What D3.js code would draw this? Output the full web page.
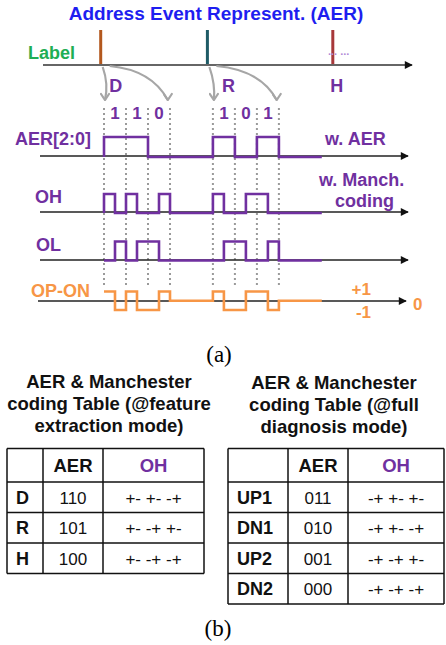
<!DOCTYPE html>
<html>
<head>
<meta charset="utf-8">
<script src="https://cdn.jsdelivr.net/npm/d3@7"></script>
<style>
  html, body { margin: 0; padding: 0; background: #fff; }
  svg { display: block; }
  text { font-family: "Liberation Sans", Arial, sans-serif; }
  .serif { font-family: "Liberation Serif", "Times New Roman", serif; }
</style>
</head>
<body>
<svg id="fig" width="446" height="645"></svg>
<script>
// ---- data -------------------------------------------------------------
const titleText = "Address Event Represent. (AER)";
const eventLabels = ["D", "R", "H"];
const markTimes = [-0.3, 9.4, 20.8];     // label pulses on the "Label" line
const startTimes = [0, 9.9];             // start of the encoded slot for D and R
const traceEnd = 19.8;                   // end of the drawn waveforms
const traceNames = ["AER[2:0]", "OH", "OL", "OP-ON"];
const levelLabels = ["+1", "-1", "0"];

const featureRows = ["D", "R", "H"];
const featureAER = ["110", "101", "100"];
const featureOH = ["+- +- -+", "+- -+ +-", "+- -+ -+"];

const diagRows = ["UP1", "DN1", "UP2", "DN2"];
const diagAER = ["011", "010", "001", "000"];
const diagOH = ["-+ +- +-", "-+ +- -+", "-+ -+ +-", "-+ -+ -+"];

// ---- styles -----------------------------------------------------------
const PURPLE = "#7030a0", ORANGE = "#f79646", BLUE = "#1e1ef0", GREEN = "#1fae55";
const markColors = ["#b3581e", "#1f5b66", "#a7383a"];
const GREY = "#a6a6a6";

const svg = d3.select("#fig");
const defs = svg.append("defs");
defs.append("marker").attr("id", "tri").attr("viewBox", "0 0 10 10")
  .attr("refX", 9).attr("refY", 5).attr("markerWidth", 9).attr("markerHeight", 8)
  .attr("markerUnits", "userSpaceOnUse").attr("orient", "auto")
  .append("path").attr("d", "M0,0 L10,5 L0,10 Z").attr("fill", "#111");
defs.append("marker").attr("id", "chev").attr("viewBox", "0 0 10 10")
  .attr("refX", 5).attr("refY", 9).attr("markerWidth", 10).attr("markerHeight", 10)
  .attr("markerUnits", "userSpaceOnUse").attr("orient", "0")
  .append("path").attr("d", "M1,3 L5,9 L9,3").attr("fill", "none")
  .attr("stroke", GREY).attr("stroke-width", 2.2).attr("stroke-linecap", "round");

// time scale shared by all traces (one unit = half a bit)
const x = d3.scaleLinear().domain([0, 16]).range([104, 280]);

// ---- title and label line --------------------------------------------
svg.append("text").attr("x", 216).attr("y", 20).attr("text-anchor", "middle")
  .attr("font-size", 19).attr("font-weight", "bold").attr("fill", BLUE).text(titleText);

svg.append("text").attr("x", 28).attr("y", 59).attr("font-size", 18)
  .attr("font-weight", "bold").attr("fill", GREEN).text("Label");

svg.append("line").attr("x1", 43).attr("x2", 412).attr("y1", 65).attr("y2", 65)
  .attr("stroke", "#666").attr("stroke-width", 2).attr("marker-end", "url(#tri)");

svg.selectAll("line.mark").data(markTimes).join("line").attr("class", "mark")
  .attr("x1", d => x(d)).attr("x2", d => x(d)).attr("y1", 30).attr("y2", 64)
  .attr("stroke", (d, i) => markColors[i]).attr("stroke-width", 3);

const labelDx = [15, 21, 4];
svg.selectAll("text.ev").data(eventLabels).join("text").attr("class", "ev")
  .attr("x", (d, i) => x(markTimes[i]) + labelDx[i]).attr("y", 92)
  .attr("text-anchor", "middle").attr("font-size", 18).attr("font-weight", "bold")
  .attr("fill", PURPLE).text(d => d);

svg.append("text").attr("x", 328).attr("y", 55).attr("font-size", 11)
  .attr("font-weight", "bold").attr("fill", "#b08ad6").text("... ...");

// curved arrows from each label pulse to its encoded slot
startTimes.forEach((s, i) => {
  const mx = x(markTimes[i]);
  const a = x(s) + 1, b = x(s + 5.8);
  svg.append("path").attr("d", `M${mx + 2},67 Q${mx + 8},84 ${a},100`)
    .attr("fill", "none").attr("stroke", GREY).attr("stroke-width", 2.2)
    .attr("marker-end", "url(#chev)");
  svg.append("path").attr("d", `M${mx + 9},66 Q${b - 16},70 ${b},100`)
    .attr("fill", "none").attr("stroke", GREY).attr("stroke-width", 2.2)
    .attr("marker-end", "url(#chev)");
});

// ---- waveforms --------------------------------------------------------
function halfLevels(i) {
  const aer = featureAER[i].split("").flatMap(b => [+b, +b]);
  const oh = featureOH[i].replace(/ /g, "").split("").map(c => c === "+" ? 1 : 0);
  const ol = oh.map(v => 1 - v);
  const op = oh.map((v, k) => v - ol[k]);
  return { aer, oh, ol, op };
}
const lv = startTimes.map((s, i) => halfLevels(i));

function tracePoints(key, lead) {
  const pts = lead ? [[0, 0]] : [];
  startTimes.forEach((s, i) => {
    lv[i][key].forEach((v, k) => pts.push([s + k, v]));
    pts.push([s + 6, 0]);
  });
  pts.push([traceEnd, 0]);
  return pts;
}

const traces = [
  { key: "aer", axisY: 156, y: d3.scaleLinear().domain([0, 1]).range([157, 137]), color: PURPLE, lead: true },
  { key: "oh", axisY: 212, y: d3.scaleLinear().domain([0, 1]).range([213, 194]), color: PURPLE, lead: true },
  { key: "ol", axisY: 260, y: d3.scaleLinear().domain([0, 1]).range([260.5, 241.5]), color: PURPLE, lead: true },
  { key: "op", axisY: 301, y: d3.scaleLinear().domain([-1, 1]).range([310, 291.5]), color: ORANGE, lead: false }
];

// dotted bit boundaries
const bounds = startTimes.flatMap(s => [0, 2, 4, 6].map(k => s + k));
svg.selectAll("line.bound").data(bounds).join("line").attr("class", "bound")
  .attr("x1", d => x(d)).attr("x2", d => x(d)).attr("y1", 108).attr("y2", 286)
  .attr("stroke", "#9a9a9a").attr("stroke-width", 2).attr("stroke-dasharray", "2,3");

// time axes
const axisX = [[40, 408], [40, 408], [40, 408], [38, 406]];
traces.forEach((t, i) => {
  svg.append("line").attr("x1", axisX[i][0]).attr("x2", axisX[i][1])
    .attr("y1", t.axisY).attr("y2", t.axisY)
    .attr("stroke", "#222").attr("stroke-width", 1.4).attr("marker-end", "url(#tri)");
});

traces.forEach(t => {
  const line = d3.line().x(d => x(d[0])).y(d => t.y(d[1])).curve(d3.curveStepAfter);
  svg.append("path").attr("d", line(tracePoints(t.key, t.lead)))
    .attr("fill", "none").attr("stroke", t.color).attr("stroke-width", 2.6)
    .attr("stroke-linejoin", "miter");
});

// bit values over each slot
const bitData = startTimes.flatMap((s, i) =>
  featureAER[i].split("").map((b, k) => ({ t: s + 2 * k + 1, b })));
svg.selectAll("text.bit").data(bitData).join("text").attr("class", "bit")
  .attr("x", d => x(d.t)).attr("y", 119).attr("text-anchor", "middle")
  .attr("font-size", 17).attr("font-weight", "bold").attr("fill", PURPLE).text(d => d.b);

// trace names and side notes
const nameX = [15, 35, 36, 31], nameY = [145, 203, 251, 297];
traceNames.forEach((n, i) => {
  svg.append("text").attr("x", nameX[i]).attr("y", nameY[i]).attr("font-size", 18)
    .attr("font-weight", "bold").attr("fill", i === 3 ? ORANGE : PURPLE).text(n);
});
svg.append("text").attr("x", 325).attr("y", 145).attr("font-size", 18)
  .attr("font-weight", "bold").attr("fill", PURPLE).text("w. AER");
svg.append("text").attr("x", 319).attr("y", 186).attr("font-size", 18)
  .attr("font-weight", "bold").attr("fill", PURPLE).text("w. Manch.");
svg.append("text").attr("x", 335).attr("y", 207).attr("font-size", 18)
  .attr("font-weight", "bold").attr("fill", PURPLE).text("coding");

svg.append("text").attr("x", 371).attr("y", 295).attr("text-anchor", "end").attr("font-size", 17)
  .attr("font-weight", "bold").attr("fill", ORANGE).text(levelLabels[0]);
svg.append("text").attr("x", 371).attr("y", 318).attr("text-anchor", "end").attr("font-size", 17)
  .attr("font-weight", "bold").attr("fill", ORANGE).text(levelLabels[1]);
svg.append("text").attr("x", 413).attr("y", 310).attr("font-size", 17)
  .attr("font-weight", "bold").attr("fill", ORANGE).text(levelLabels[2]);

svg.append("text").attr("class", "serif").attr("x", 219).attr("y", 362)
  .attr("text-anchor", "middle").attr("font-size", 23).text("(a)");

// ---- tables -----------------------------------------------------------
function drawTable(cfg) {
  const g = svg.append("g");
  cfg.title.forEach((line, i) => {
    g.append("text").attr("x", cfg.cx).attr("y", cfg.titleY + i * 22)
      .attr("text-anchor", "middle").attr("font-size", 18.5).attr("font-weight", "bold")
      .attr("fill", "#111").text(line);
  });
  const cols = cfg.cols, rows = cfg.rowsY;
  rows.forEach(y => g.append("line").attr("x1", cols[0]).attr("x2", cols[cols.length - 1])
    .attr("y1", y).attr("y2", y).attr("stroke", "#111").attr("stroke-width", 1.5));
  cols.forEach(c => g.append("line").attr("x1", c).attr("x2", c)
    .attr("y1", rows[0]).attr("y2", rows[rows.length - 1]).attr("stroke", "#111").attr("stroke-width", 1.5));
  const mid = k => (rows[k] + rows[k + 1]) / 2 + 6.5;
  g.append("text").attr("x", (cols[1] + cols[2]) / 2).attr("y", mid(0)).attr("text-anchor", "middle")
    .attr("font-size", 18.5).attr("font-weight", "bold").attr("fill", "#111").text("AER");
  g.append("text").attr("x", (cols[2] + cols[3]) / 2).attr("y", mid(0)).attr("text-anchor", "middle")
    .attr("font-size", 18.5).attr("font-weight", "bold").attr("fill", PURPLE).text("OH");
  cfg.rowNames.forEach((r, i) => {
    g.append("text").attr("x", cols[0] + 9).attr("y", mid(i + 1)).attr("font-size", 18)
      .attr("font-weight", "bold").attr("fill", "#111").text(r);
    g.append("text").attr("x", (cols[1] + cols[2]) / 2).attr("y", mid(i + 1)).attr("text-anchor", "middle")
      .attr("font-size", 17).attr("fill", "#111").text(cfg.aer[i]);
    g.append("text").attr("x", (cols[2] + cols[3]) / 2).attr("y", mid(i + 1)).attr("text-anchor", "middle")
      .attr("font-size", 17).attr("fill", "#111").attr("xml:space", "preserve").text(cfg.oh[i]);
  });
}

drawTable({
  title: ["AER & Manchester", "coding Table (@feature", "extraction mode)"],
  cx: 109, titleY: 388,
  cols: [7, 43, 103, 204], rowsY: [448.5, 482, 512.5, 543, 573.5],
  rowNames: featureRows, aer: featureAER, oh: featureOH
});
drawTable({
  title: ["AER & Manchester", "coding Table (@full", "diagnosis mode)"],
  cx: 334, titleY: 389,
  cols: [228, 288, 348, 444], rowsY: [448.5, 482, 512.5, 543, 573.5, 604],
  rowNames: diagRows, aer: diagAER, oh: diagOH
});

svg.append("text").attr("class", "serif").attr("x", 218).attr("y", 636)
  .attr("text-anchor", "middle").attr("font-size", 23).text("(b)");
</script>
</body>
</html>
